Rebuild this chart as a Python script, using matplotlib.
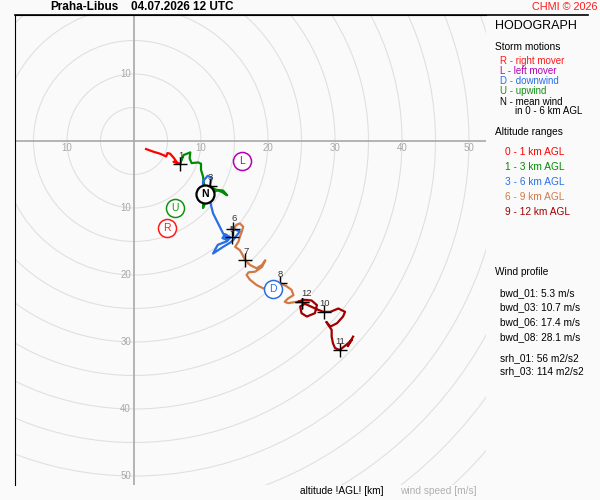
import numpy as np
import matplotlib
matplotlib.use("Agg")
import matplotlib.pyplot as plt
from matplotlib.patches import Circle
from matplotlib.lines import Line2D

plt.rcParams['font.family'] = ['Liberation Sans', 'DejaVu Sans']

# hodograph trace (u, v in m/s), split by altitude range
red_u = [1.8, 2.9, 3.9, 4.8, 5.0, 5.4, 6.0, 6.4, 5.9, 6.9]
red_v = [-1.2, -1.6, -1.9, -2.3, -1.8, -1.9, -2.6, -3.2, -3.1, -3.4]

green_u = [6.9, 7.2, 7.4, 7.9, 8.4, 8.3, 8.6, 9.6, 10.0, 10.0, 10.3, 10.4, 10.6, 10.4,
           10.3, 10.6, 11.0, 11.6, 12.5, 13.3, 13.9, 13.1, 12.1, 11.3]
green_v = [-3.4, -2.6, -2.1, -1.9, -1.7, -2.6, -3.3, -3.2, -3.4, -4.3, -5.3, -6.1, -7.0, -8.2,
           -10.0, -9.3, -8.5, -7.8, -7.3, -7.4, -8.1, -7.6, -7.2, -6.7]

blue_u = [11.3, 11.6, 11.0, 10.3, 10.3, 10.9, 11.3, 11.8, 12.3, 12.8, 13.3, 14.0, 13.2, 13.6,
          14.4, 13.8, 12.5, 11.8, 13.3, 14.3, 14.8, 15.8, 15.3, 14.6, 14.8]
blue_v = [-6.7, -5.5, -5.2, -6.0, -6.7, -7.6, -8.8, -10.8, -11.8, -12.8, -13.8, -14.8, -14.5, -13.9,
          -14.4, -15.0, -15.5, -16.8, -15.8, -15.2, -14.8, -13.5, -13.3, -13.0, -13.1]

orange_u = [14.9, 15.3, 15.8, 16.3, 16.1, 15.8, 15.6, 15.1, 15.8, 16.1, 16.6, 17.3, 18.3, 19.1,
            19.6, 19.1, 18.1, 17.1, 16.8, 17.3, 18.3, 19.3, 20.6, 21.8, 22.8, 23.5, 23.8, 23.0,
            22.5, 23.0, 24.3, 25.0]
orange_v = [-13.0, -12.5, -12.3, -12.8, -13.5, -14.3, -15.0, -15.8, -16.3, -16.8, -17.8, -18.5,
            -19.0, -18.5, -17.8, -18.8, -19.5, -19.6, -20.0, -20.7, -21.5, -22.0, -22.2, -21.2,
            -21.7, -22.2, -23.0, -23.5, -24.0, -24.2, -24.0, -24.0]

darkred_u = [25.0, 24.5, 25.3, 26.5, 27.3, 27.0, 25.8, 25.0, 24.8, 25.5, 27.5, 28.3, 29.3, 30.5,
             31.5, 31.2, 30.3, 29.3, 28.7, 29.5, 29.5, 29.7, 30.0, 30.7, 31.7, 32.5, 31.9, 32.7]
darkred_v = [-24.0, -24.0, -23.7, -23.8, -24.5, -25.7, -26.2, -25.7, -24.7, -24.3, -25.2, -25.5,
             -25.5, -25.0, -25.5, -26.2, -27.2, -27.7, -27.0, -28.2, -29.2, -30.2, -30.9, -31.2,
             -30.4, -29.7, -30.6, -29.2]

# altitude markers (km)
alt_labels = ['1', '3', '6', '5', '7', '8', '9', '12', '10', '11']
alt_u = [6.9, 11.3, 14.8, 14.6, 16.6, 21.8, 25.0, 25.0, 28.3, 30.7]
alt_v = [-3.4, -6.7, -13.1, -14.3, -17.8, -21.2, -24.0, -24.0, -25.5, -31.2]

# storm motions
storm_names = ['N', 'L', 'U', 'R', 'D']
storm_u = [10.6, 16.1, 6.1, 4.9, 20.7]
storm_v = [-7.9, -3.0, -10.0, -13.0, -22.1]
storm_colors = ['black', '#b400b4', '#129212', '#ff1a1a', '#2a6ee6']

ring_radii = np.arange(5, 80, 5)
tick_vals = [10, 20, 30, 40, 50]

legend_motion = ['R - right mover', 'L - left mover', 'D - downwind', 'U - upwind', 'N - mean wind']
legend_motion_col = ['#ff1a1a', '#b400b4', '#2a6ee6', '#129212', 'black']
legend_alt = ['0 - 1 km AGL', '1 - 3 km AGL', '3 - 6 km AGL', '6 - 9 km AGL', '9 - 12 km AGL']
alt_colors = ['#ff0000', '#008c00', '#2a6ee6', '#d27a46', '#a00000']
profile = ['bwd_01: 5.3 m/s', 'bwd_03: 10.7 m/s', 'bwd_06: 17.4 m/s', 'bwd_08: 28.1 m/s',
           'srh_01: 56 m2/s2', 'srh_03: 114 m2/s2']

bg = '#fafafa'
W, H = 600, 500
fs = 7.3


def px(x, y):
    return x / W, 1 - y / H


fig = plt.figure(figsize=(6, 5), dpi=100, facecolor=bg)
# plot area in pixels: x 15..486, y 15..485, origin at (134, 141), 6.7 px per m/s
scale = 6.7
ax = fig.add_axes([15 / W, 15 / H, 471 / W, 470 / H])
ax.set_facecolor(bg)
ax.set_xlim((15 - 134) / scale, (486 - 134) / scale)
ax.set_ylim((141 - 485) / scale, (141 - 15) / scale)
ax.set_xticks([])
ax.set_yticks([])
for s in ['right', 'bottom']:
    ax.spines[s].set_visible(False)
ax.spines['left'].set_color('black')
ax.spines['top'].set_color('black')

for r in ring_radii:
    ax.add_patch(Circle((0, 0), r, fill=False, ec='#e0e0e0', lw=0.8, zorder=1))
ax.axhline(0, color='#a8a8a8', lw=1.2, zorder=2)
ax.axvline(0, color='#a8a8a8', lw=1.2, zorder=2)

for t in [-10] + tick_vals:
    ax.text(t, -1.05, str(abs(t)), color='#a8a8a8', fontsize=7, ha='center', va='center', zorder=3)
for t in [10] + [-t for t in tick_vals]:
    ax.text(-0.45, t, str(abs(t)), color='#a8a8a8', fontsize=7, ha='right', va='center', zorder=3)

traces = [(red_u, red_v), (green_u, green_v), (blue_u, blue_v), (orange_u, orange_v),
          (darkred_u, darkred_v)]
for (u, v), c in zip(traces, alt_colors):
    ax.plot(u, v, color=c, lw=1.6, zorder=4, solid_joinstyle='round')

ax.plot(alt_u, alt_v, '+', color='black', ms=10, mew=1, zorder=5)
for lab, u, v in zip(alt_labels, alt_u, alt_v):
    dx, dy = 0.1, 1.3
    box = None
    if lab == '9':
        dx = 0.25
    if lab == '12':
        dx = 0.75
        box = dict(fc=bg, ec='none', pad=0.3)
    if lab == '6':
        dy = 1.5
    if lab == '5':
        dy = 1.1
    ax.text(u + dx, v + dy, lab, fontsize=6.8, color='#333333', ha='center', va='center',
            zorder=7 if lab == '12' else 6, bbox=box)

for name, u, v, c in zip(storm_names, storm_u, storm_v, storm_colors):
    lw = 1.6 if name == 'N' else 1.1
    ax.plot(u, v, 'o', ms=13, mfc='white', mec=c, mew=lw, zorder=8)
    ax.text(u, v - 0.05, name, color=c, fontsize=7.5, ha='center', va='center', zorder=9,
            fontweight='bold' if name == 'N' else 'normal')

# header and frame line
fig.add_artist(Line2D([15 / W, 588 / W], [1 - 15 / H, 1 - 15 / H], color='black', lw=1.2))
fig.text(*px(50, 7), 'Praha-Libus', fontsize=8.5, fontweight='bold', ha='left', va='center')
fig.text(*px(131, 7), '04.07.2026 12 UTC', fontsize=8.5, fontweight='bold', ha='left', va='center')
fig.text(*px(598, 7), 'CHMI © 2026', fontsize=7.8, color='#ff1a1a', ha='right', va='center')

# right panel
fig.text(*px(495, 26), 'HODOGRAPH', fontsize=9, ha='left', va='center')
fig.text(*px(495, 46.5), 'Storm motions', fontsize=fs, ha='left', va='center')
for i, (t, c) in enumerate(zip(legend_motion, legend_motion_col)):
    fig.text(*px(500.5, 61.5 + 10 * i), t, fontsize=7.0, color=c, ha='left', va='center')
fig.text(*px(515, 111.5), 'in 0 - 6 km AGL', fontsize=7.0, ha='left', va='center')
fig.text(*px(495, 132), 'Altitude ranges', fontsize=fs, ha='left', va='center')
for i, (t, c) in enumerate(zip(legend_alt, alt_colors)):
    fig.text(*px(505, 151.7 + 15 * i), t, fontsize=fs, color=c, ha='left', va='center')
fig.text(*px(495, 272), 'Wind profile', fontsize=fs, ha='left', va='center')
prof_y = [293, 307.5, 322.5, 337, 358, 371.5]
for t, y in zip(profile, prof_y):
    fig.text(*px(500, y), t, fontsize=fs, ha='left', va='center')

fig.text(*px(300, 491.5), 'altitude !AGL! [km]', fontsize=fs, ha='left', va='center')
fig.text(*px(400, 491.5), 'wind speed [m/s]', fontsize=fs, color='#b0b0b0', ha='left', va='center')

fig.savefig('out.png', dpi=100, facecolor=bg)
